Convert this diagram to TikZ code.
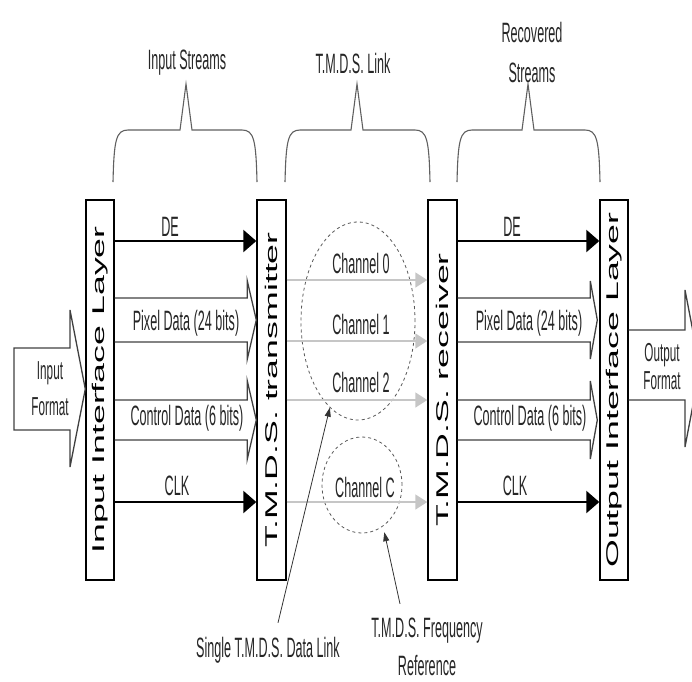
\documentclass[tikz,border=0pt]{standalone}
\usepackage{fontspec}
\setmainfont{Liberation Sans}
\newfontfamily\narrowfont[FakeStretch=0.45]{Liberation Sans}
\newfontfamily\widefont[FakeStretch=2.1]{Liberation Sans}
\usetikzlibrary{shapes.geometric, arrows.meta, positioning, calc}

\begin{document}
\begin{tikzpicture}[
    x=1pt, y=-1pt,
    layer/.style={
        draw=black,
        line width=1.4pt,
        fill=white,
        minimum width=28,
        minimum height=380,
        inner sep=0pt
    },
    vlabel/.style={
        rotate=90,
        inner sep=0pt,
        font={\widefont\fontsize{17}{20}\selectfont}
    },
    lbl/.style={
        inner sep=0pt,
        align=center,
        text=black!85,
        font={\narrowfont\fontsize{28}{32}\selectfont}
    },
    sig/.style={
        -{Triangle[length=13pt,width=22pt]},
        line width=2.4pt
    },
    bus/.style={
        draw=black!75,
        line width=1.3pt
    },
    chan/.style={
        -{Triangle[length=12pt,width=15pt]},
        draw=gray!45,
        line width=1.5pt
    },
    brace/.style={
        draw=gray!75!black,
        line width=1.1pt
    },
    linkgrp/.style={
        ellipse,
        draw=black!65,
        dashed,
        line width=0.8pt,
        inner sep=0pt
    },
    note/.style={
        -{Triangle[length=9pt,width=6pt]},
        draw=black!80,
        line width=0.8pt
    }
]

\useasboundingbox (0,0) rectangle (692,681);
\clip (0,0) rectangle (692,681);

% --- ROWS ------------------------------------------------------

\coordinate (rDE)  at (0,241);
\coordinate (rPix) at (0,320);
\coordinate (rCtl) at (0,420);
\coordinate (rCLK) at (0,502);
\coordinate (rC0)  at (0,280);
\coordinate (rC1)  at (0,341);
\coordinate (rC2)  at (0,400);
\coordinate (rFmt) at (0,389);
\coordinate (rOut) at (0,368);

% --- LAYER BOXES -----------------------------------------------

\node[layer] (inL) at (100,390) {};
\node[layer, minimum width=29] (tx) at (271.5,390) {};
\node[layer, minimum width=29] (rx) at (442.5,390) {};
\node[layer] (outL) at (614,390) {};

\node[vlabel] (inLtxt)  at (inL)  {Input Interface Layer};
\node[vlabel] (txtxt)   at (tx)   {T.M.D.S. transmitter};
\node[vlabel] (rxtxt)   at (rx)   {T.M.D.S. receiver};
\node[vlabel] (outLtxt) at (outL) {Output Interface Layer};

% --- INPUT / OUTPUT FORMAT -------------------------------------

\draw[bus] (14,348) -- (70,348) -- (70,310) -- (inL.west |- rFmt)
    -- (70,467) -- (70,430) -- (14,430) -- cycle;
\node[lbl, font={\narrowfont\fontsize{26}{36}\selectfont}] (infmt) at (50,389) {Input\\Format};

\draw[bus] (outL.east |- 0,330) -- (685,330) -- (685,290) -- (700,368)
    -- (685,447) -- (685,400) -- (outL.east |- 0,400);
\node[lbl, font={\narrowfont\fontsize{26}{28}\selectfont}] (outfmt) at (662,367) {Output\\Format};

% --- INPUT STREAMS ---------------------------------------------

\draw[sig] (inL.east |- rDE) -- (tx.west |- rDE);
\node[lbl] (deA) at (170,227) {DE};

\draw[bus] ($(inL.east |- rPix)+(0,-22)$) -- ($(tx.west |- rPix)+(-9,-22)$)
    -- ($(tx.west |- rPix)+(-9,-39)$) -- (tx.west |- rPix)
    -- ($(tx.west |- rPix)+(-9,39)$) -- ($(tx.west |- rPix)+(-9,22)$)
    -- ($(inL.east |- rPix)+(0,22)$);
\node[lbl] (pixA) at (186,323) {Pixel Data (24 bits)};

\draw[bus] ($(inL.east |- rCtl)+(0,-20)$) -- ($(tx.west |- rCtl)+(-9,-20)$)
    -- ($(tx.west |- rCtl)+(-9,-39)$) -- (tx.west |- rCtl)
    -- ($(tx.west |- rCtl)+(-9,39)$) -- ($(tx.west |- rCtl)+(-9,20)$)
    -- ($(inL.east |- rCtl)+(0,20)$);
\node[lbl] (ctlA) at (187,418) {Control Data (6 bits)};

\draw[sig] (inL.east |- rCLK) -- (tx.west |- rCLK);
\node[lbl] (clkA) at (177,486) {CLK};

% --- T.M.D.S. LINK ---------------------------------------------

\node[linkgrp, minimum width=114, minimum height=198] (grp) at (358,321) {};
\node[linkgrp, minimum width=80, minimum height=96] (clkgrp) at (362,485) {};

\draw[chan] (tx.east |- rC0) -- (rx.west |- rC0);
\draw[chan] (tx.east |- rC1) -- (rx.west |- rC1);
\draw[chan] (tx.east |- rC2) -- (rx.west |- rC2);
\draw[chan] (tx.east |- rCLK) -- (rx.west |- rCLK);

\node[lbl] (ch0) at (361,263) {Channel 0};
\node[lbl] (ch1) at (361,324) {Channel 1};
\node[lbl] (ch2) at (361,382) {Channel 2};
\node[lbl] (chC) at (365,487) {Channel C};

% --- RECOVERED STREAMS -----------------------------------------

\draw[sig] (rx.east |- rDE) -- (outL.west |- rDE);
\node[lbl] (deB) at (512,227) {DE};

\draw[bus] ($(rx.east |- rPix)+(0,-22)$) -- ($(outL.west |- rPix)+(-9,-22)$)
    -- ($(outL.west |- rPix)+(-9,-39)$) -- ($(outL.west |- rPix)+(-2,0)$)
    -- ($(outL.west |- rPix)+(-9,39)$) -- ($(outL.west |- rPix)+(-9,22)$)
    -- ($(rx.east |- rPix)+(0,22)$);
\node[lbl] (pixB) at (529,323) {Pixel Data (24 bits)};

\draw[bus] ($(rx.east |- rCtl)+(0,-20)$) -- ($(outL.west |- rCtl)+(-9,-20)$)
    -- ($(outL.west |- rCtl)+(-9,-39)$) -- ($(outL.west |- rCtl)+(-2,0)$)
    -- ($(outL.west |- rCtl)+(-9,39)$) -- ($(outL.west |- rCtl)+(-9,20)$)
    -- ($(rx.east |- rCtl)+(0,20)$);
\node[lbl] (ctlB) at (530,418) {Control Data (6 bits)};

\draw[sig] (rx.east |- rCLK) -- (outL.west |- rCLK);
\node[lbl] (clkB) at (515,486) {CLK};

% --- BRACES ----------------------------------------------------

\foreach \l/\t/\r in {113/186/257, 285/357/430, 457/528/600} {
    \draw[brace] (\l,182) .. controls (\l+1,140) and (\l+3,130) .. (\l+15,130)
        -- (\t-6,130) -- (\t,84) -- (\t+6,130) -- (\r-15,130)
        .. controls (\r-3,130) and (\r-1,140) .. (\r,182);
}

\node[lbl] (instr) at (187,63) {Input Streams};
\node[lbl] (link)  at (353,63) {T.M.D.S. Link};
\node[lbl, font={\narrowfont\fontsize{28}{40}\selectfont}] (recstr) at (532,52) {Recovered\\Streams};

% --- NOTES -----------------------------------------------------

\node[lbl] (sdl) at (268,650) {Single T.M.D.S. Data Link};
\node[lbl, font={\narrowfont\fontsize{28}{38}\selectfont}] (tfr) at (427,647) {T.M.D.S. Frequency\\Reference};

\draw[note] ($(sdl.north)+(10,-14)$) -- (grp.252);
\draw[note, shorten >=6pt] ($(tfr.north)+(-27,-14)$) -- (clkgrp.297);

\end{tikzpicture}
\end{document}
